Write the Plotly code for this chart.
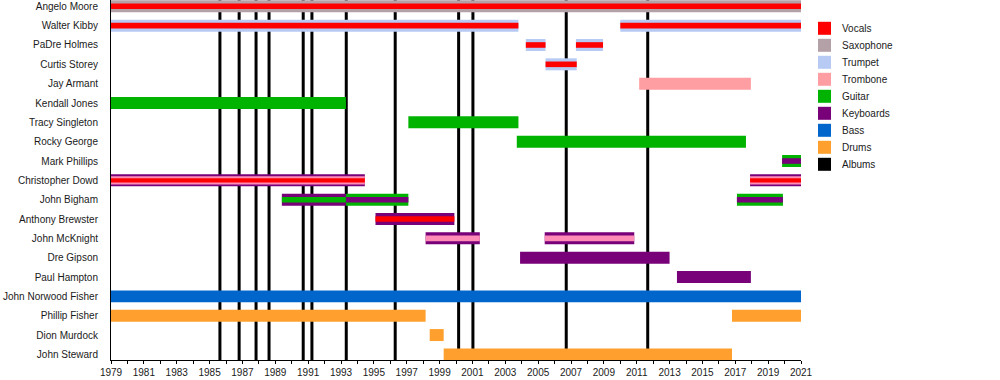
import plotly.graph_objects as go

# ---------------- data ----------------
members = ["Angelo Moore", "Walter Kibby", "PaDre Holmes", "Curtis Storey", "Jay Armant",
           "Kendall Jones", "Tracy Singleton", "Rocky George", "Mark Phillips",
           "Christopher Dowd", "John Bigham", "Anthony Brewster", "John McKnight",
           "Dre Gipson", "Paul Hampton", "John Norwood Fisher", "Phillip Fisher",
           "Dion Murdock", "John Steward"]

instruments = ["Vocals", "Saxophone", "Trumpet", "Trombone", "Guitar",
               "Keyboards", "Bass", "Drums", "Albums"]
inst_colors = ["#ff0000", "#b4a0a7", "#b6caf4", "#ff9ea2", "#00b300",
               "#780078", "#0066cc", "#ffa02e", "#000000"]

# stints: member, start, end, roles (outer -> inner)
span_member = ["Angelo Moore", "Walter Kibby", "Walter Kibby", "PaDre Holmes", "PaDre Holmes",
               "Curtis Storey", "Jay Armant", "Kendall Jones", "Tracy Singleton", "Rocky George",
               "Mark Phillips", "Christopher Dowd", "Christopher Dowd", "John Bigham", "John Bigham",
               "John Bigham", "Anthony Brewster", "John McKnight", "John McKnight", "Dre Gipson",
               "Paul Hampton", "John Norwood Fisher", "Phillip Fisher", "Phillip Fisher",
               "Dion Murdock", "John Steward"]
span_start = [1979, 1979, 2010.0, 2004.25, 2007.3,
              2005.45, 2011.15, 1979, 1997.1, 2003.7,
              2019.85, 1979, 2017.9, 1989.4, 1993.3,
              2017.1, 1995.1, 1998.15, 2005.4, 2003.9,
              2013.45, 1979, 1979, 2016.8,
              1998.4, 1999.25]
span_end = [2021, 2003.8, 2021, 2005.45, 2008.95,
            2007.35, 2017.95, 1993.3, 2003.8, 2017.65,
            2021, 1994.45, 2021, 1993.3, 1997.1,
            2019.9, 1999.9, 2001.45, 2010.85, 2013.0,
            2017.95, 2021, 1998.15, 2021,
            1999.25, 2016.8]
span_roles = [("Saxophone", "Vocals"), ("Trumpet", "Vocals"), ("Trumpet", "Vocals"),
              ("Trumpet", "Vocals"), ("Trumpet", "Vocals"),
              ("Trumpet", "Vocals"), ("Trombone",), ("Guitar",), ("Guitar",), ("Guitar",),
              ("Guitar", "Keyboards"), ("Keyboards", "Trombone", "Vocals"),
              ("Keyboards", "Trombone", "Vocals"), ("Keyboards", "Guitar"), ("Guitar", "Keyboards"),
              ("Guitar", "Keyboards"), ("Keyboards", "Vocals"), ("Keyboards", "Trombone"),
              ("Keyboards", "Trombone"), ("Keyboards",),
              ("Keyboards",), ("Bass",), ("Drums",), ("Drums",),
              ("Drums",), ("Drums",)]

album_years = [1985.63, 1986.8, 1987.83, 1988.62, 1990.7, 1991.23, 1993.32,
               1996.3, 2000.16, 2001.03, 2006.71, 2011.67]

year_min, year_max = 1979, 2021
tick_years = list(range(1979, 2022, 2))

# ---------------- styling ----------------
color_of = dict(zip(instruments, inst_colors))
stripe_override = {"Trombone": "#ff8cb6"}  # pink stripe tone inside multi-role bars
layer_widths = {1: [0.62], 2: [0.62, 0.29], 3: [0.62, 0.42, 0.22]}
FONT = "Liberation Sans, Arial, sans-serif"
TXT = "#1a1a1a"

fig = go.Figure()

row_of = {m: i for i, m in enumerate(members)}
for m, s, e, roles in zip(span_member, span_start, span_end, span_roles):
    widths = layer_widths[len(roles)]
    for k, (r, w) in enumerate(zip(roles, widths)):
        c = color_of[r]
        if len(roles) > 1 and k > 0 and r in stripe_override:
            c = stripe_override[r]
        fig.add_trace(go.Bar(
            y=[row_of[m]], x=[e - s], base=[s], orientation="h", width=w,
            marker=dict(color=c, line=dict(width=0)), showlegend=False,
            hoverinfo="skip"))

# album lines (behind bars)
for yr in album_years:
    fig.add_shape(type="line", xref="x", yref="paper", x0=yr, x1=yr, y0=0, y1=1,
                  line=dict(color="#000000", width=3), layer="below")

# manual legend
L, R, T, B = 111, 199, 0, 20
pw, ph = 1000 - L - R, 380 - T - B
def px_x(p):
    return (p - L) / pw
def px_y(p):
    return 1 - (p - T) / ph
for i, (name, col) in enumerate(zip(instruments, inst_colors)):
    cy = 28.3 + 17 * i
    fig.add_shape(type="rect", xref="paper", yref="paper",
                  x0=px_x(818), x1=px_x(831), y0=px_y(cy + 6.5), y1=px_y(cy - 6.5),
                  fillcolor=col, line=dict(width=0))
    fig.add_annotation(xref="paper", yref="paper", x=px_x(840), y=px_y(cy),
                       text=name, showarrow=False, xanchor="left", yanchor="middle",
                       font=dict(family=FONT, size=10, color=TXT))

fig.update_layout(
    width=1000, height=380,
    margin=dict(l=L, r=R, t=T, b=B),
    paper_bgcolor="white", plot_bgcolor="white",
    barmode="overlay", showlegend=False,
    font=dict(family=FONT, size=10, color=TXT),
)
fig.update_xaxes(
    range=[year_min, year_max], tickmode="array", tickvals=tick_years,
    ticktext=[str(y) for y in tick_years],
    ticks="outside", ticklen=3, tickwidth=1, tickcolor="#000",
    minor=dict(dtick=1, tick0=1979, ticks="outside", ticklen=3, tickcolor="#000", showgrid=False),
    showline=True, linecolor="#000", linewidth=1, showgrid=False, zeroline=False,
    tickfont=dict(family=FONT, size=10, color=TXT),
)
fig.update_yaxes(
    range=[18.29, -0.326], tickmode="array", tickvals=list(range(len(members))),
    ticktext=members, ticks="", ticklabelstandoff=10,
    showline=True, linecolor="#000", linewidth=1, showgrid=False, zeroline=False,
    tickfont=dict(family=FONT, size=10, color=TXT),
)

fig.write_html("out.html", config={"displayModeBar": False},
               post_script="document.body.style.margin='0px';document.body.style.overflow='hidden';")
